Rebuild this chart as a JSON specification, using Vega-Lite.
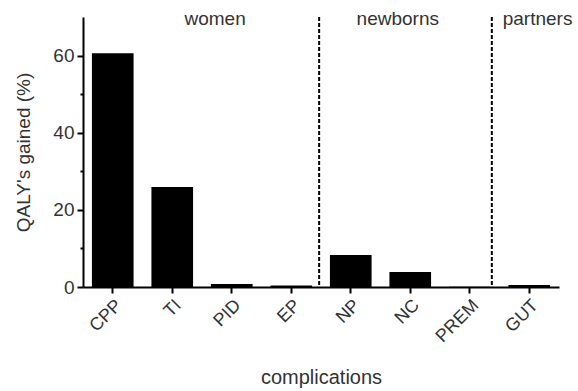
{
  "$schema": "https://vega.github.io/schema/vega-lite/v6.json",
  "autosize": "none",
  "width": 476,
  "height": 270,
  "padding": {"left": 83, "top": 17, "right": 19, "bottom": 104},
  "background": "white",
  "config": {
    "view": {"stroke": null},
    "font": "Liberation Sans",
    "axis": {"grid": false}
  },
  "data": {
    "values": [
      {"complication": "CPP", "qaly": 60.6},
      {"complication": "TI", "qaly": 25.9},
      {"complication": "PID", "qaly": 0.8},
      {"complication": "EP", "qaly": 0.4},
      {"complication": "NP", "qaly": 8.3},
      {"complication": "NC", "qaly": 3.9},
      {"complication": "PREM", "qaly": 0.05},
      {"complication": "GUT", "qaly": 0.5}
    ]
  },
  "encoding": {
    "x": {
      "field": "complication",
      "type": "nominal",
      "sort": null,
      "scale": {"paddingInner": 0.3, "paddingOuter": 0.15, "domain": ["CPP", "TI", "PID", "EP", "NP", "NC", "PREM", "GUT"]},
      "axis": {
        "title": "complications",
        "titleFontSize": 20,
        "titleFontWeight": "normal",
        "titleColor": "#333",
        "titlePadding": 22,
        "labelAngle": -45,
        "labelFontSize": 18,
        "labelColor": "#333",
        "labelPadding": 3,
        "domainColor": "#000",
        "domainWidth": 2,
        "tickColor": "#000",
        "tickWidth": 2,
        "tickSize": 6
      }
    }
  },
  "layer": [
    {
      "mark": {"type": "bar", "color": "#000"},
      "encoding": {
        "y": {
          "field": "qaly",
          "type": "quantitative",
          "scale": {"domain": [0, 70], "nice": false},
          "axis": {
            "title": "QALY's gained (%)",
            "titleFontSize": 19,
            "titleFontWeight": "normal",
            "titleColor": "#333",
            "titlePadding": 19,
            "values": [0, 10, 20, 30, 40, 50, 60],
            "labelExpr": "datum.value % 20 == 0 ? datum.label : ''",
            "labelFontSize": 19,
            "labelColor": "#333",
            "labelPadding": 3,
            "domainColor": "#000",
            "domainWidth": 2,
            "tickColor": "#000",
            "tickWidth": 2,
            "tickSize": {"condition": {"test": "datum.value % 20 == 0", "value": 6}, "value": 3}
          }
        }
      }
    },
    {
      "data": {"values": [{"after": "EP"}]},
      "mark": {"type": "rule", "color": "#000", "strokeWidth": 2, "strokeDash": [4, 2]},
      "encoding": {
        "x": {"field": "after", "type": "nominal", "bandPosition": 1.17}
      }
    },
    {
      "data": {"values": [{"after": "PREM"}]},
      "mark": {"type": "rule", "color": "#000", "strokeWidth": 2, "strokeDash": [4, 2]},
      "encoding": {
        "x": {"field": "after", "type": "nominal", "bandPosition": 1.03}
      }
    },
    {
      "data": {"values": [{"at": "PID", "group": "women", "level": 69.5}]},
      "mark": {"type": "text", "fontSize": 19, "color": "#333", "baseline": "middle"},
      "encoding": {
        "x": {"field": "at", "type": "nominal", "bandPosition": 0.1},
        "y": {"field": "level", "type": "quantitative"},
        "text": {"field": "group"}
      }
    },
    {
      "data": {"values": [{"at": "NC", "group": "newborns", "level": 69.5}]},
      "mark": {"type": "text", "fontSize": 19, "color": "#333", "baseline": "middle"},
      "encoding": {
        "x": {"field": "at", "type": "nominal", "bandPosition": 0.2},
        "y": {"field": "level", "type": "quantitative"},
        "text": {"field": "group"}
      }
    },
    {
      "data": {"values": [{"at": "GUT", "group": "partners", "level": 69.5}]},
      "mark": {"type": "text", "fontSize": 19, "color": "#333", "baseline": "middle"},
      "encoding": {
        "x": {"field": "at", "type": "nominal", "bandPosition": 0.7},
        "y": {"field": "level", "type": "quantitative"},
        "text": {"field": "group"}
      }
    }
  ]
}
